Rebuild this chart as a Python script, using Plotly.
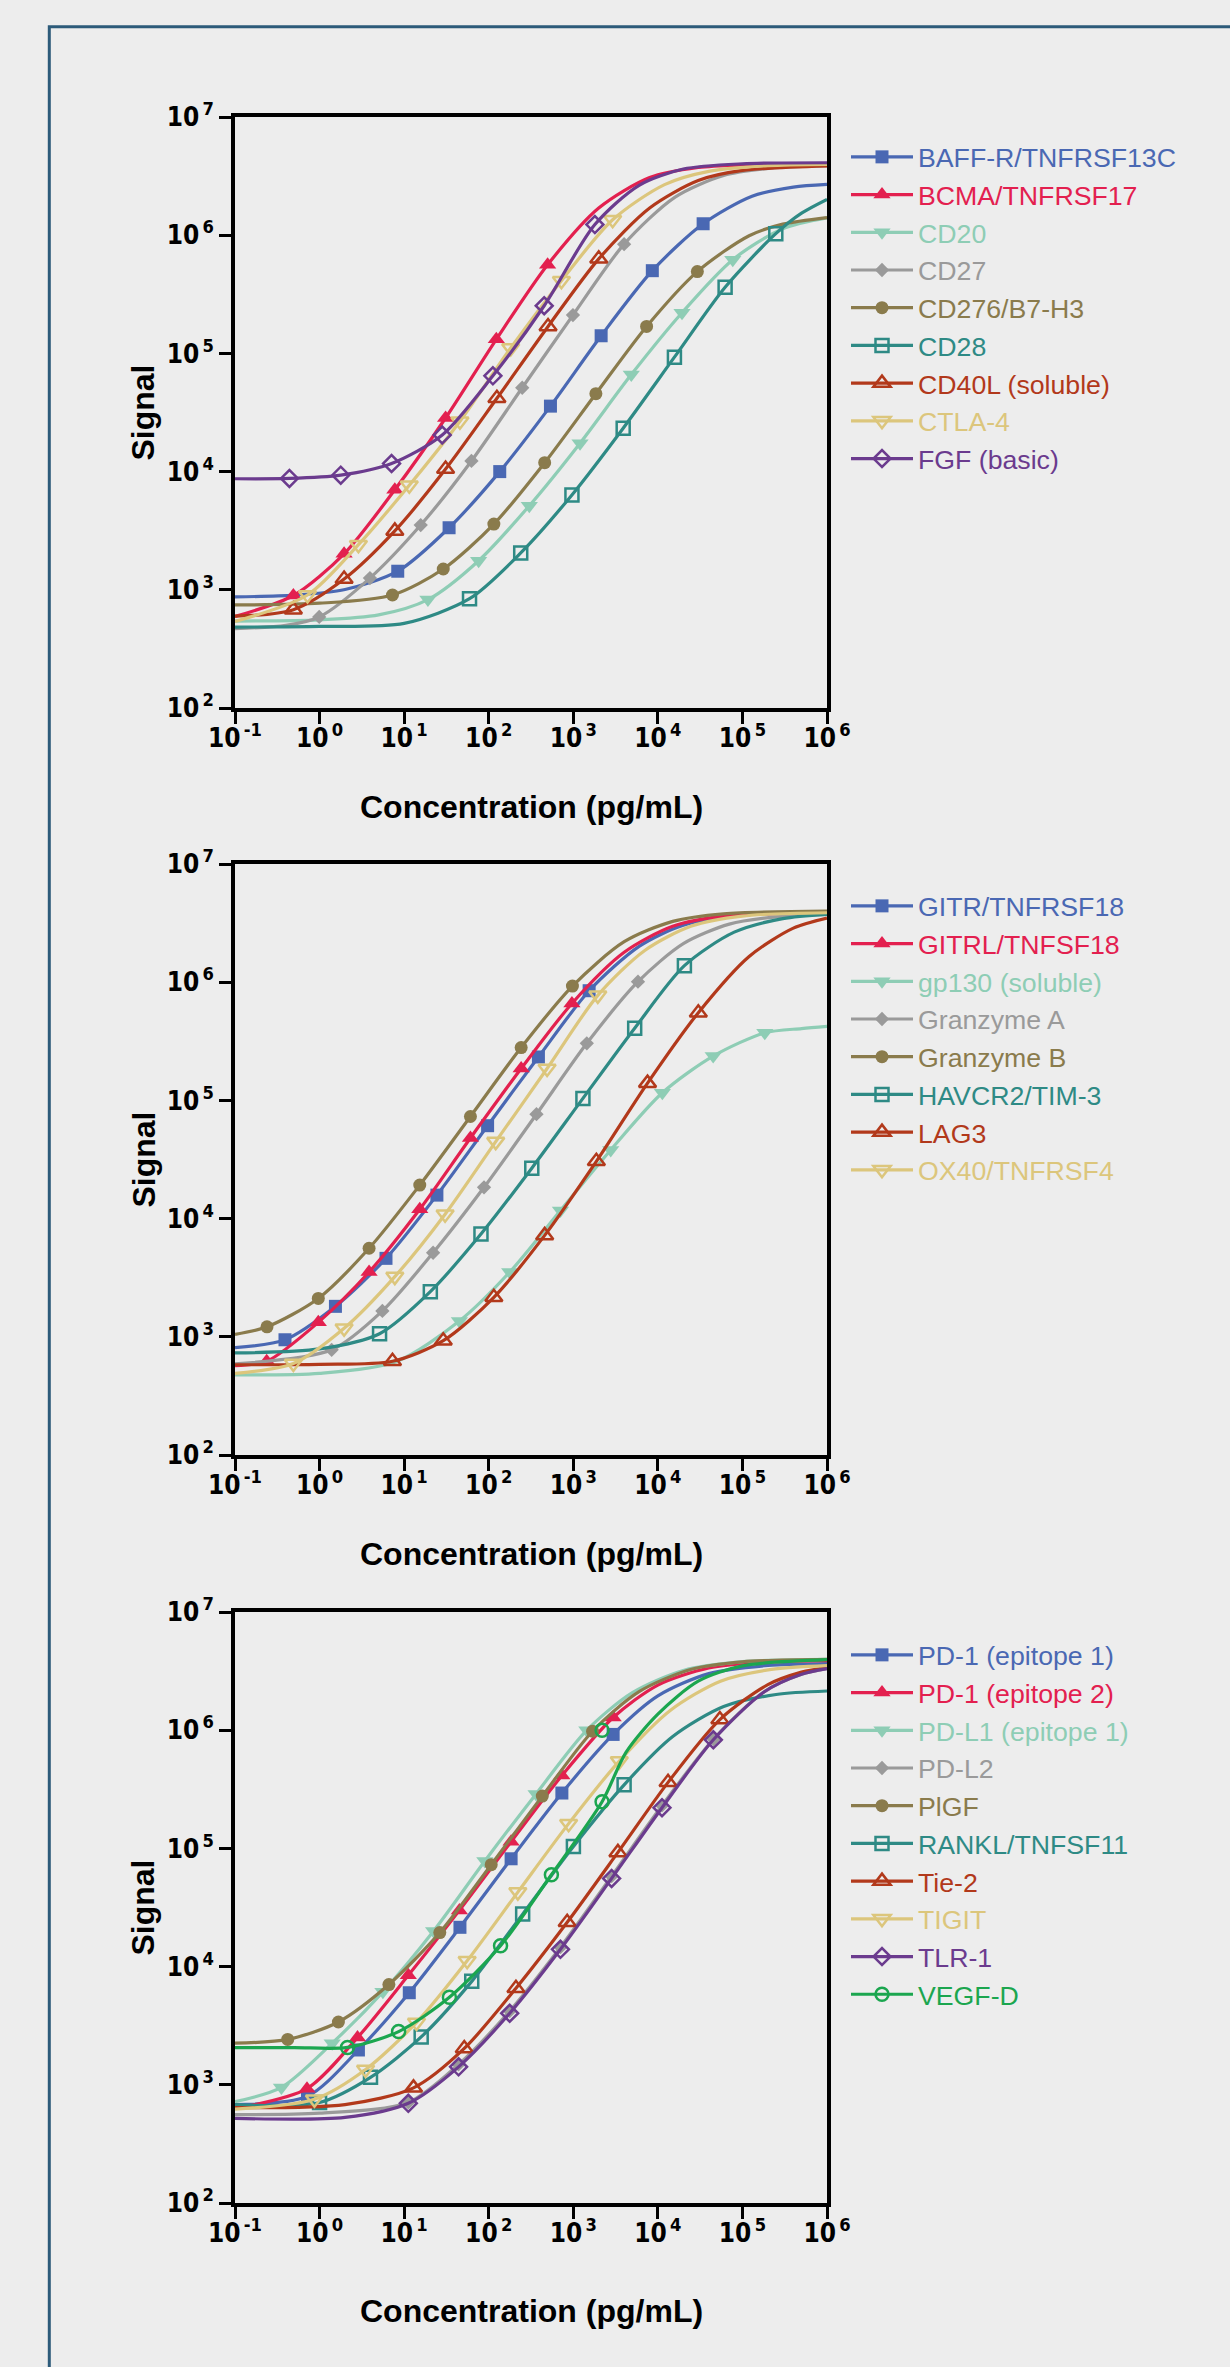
import plotly.graph_objects as go

# ---------------- axis tick labels ----------------
X_TICKVALS = [0.1, 1, 10, 100, 1000, 10000, 100000, 1000000]
X_TICKTEXT = ["10<sup>\u2009-1</sup>", "10<sup>\u20090</sup>", "10<sup>\u20091</sup>", "10<sup>\u20092</sup>",
              "10<sup>\u20093</sup>", "10<sup>\u20094</sup>", "10<sup>\u20095</sup>", "10<sup>\u20096</sup>"]
Y_TICKVALS = [100, 1000, 10000, 100000, 1000000, 10000000]
Y_TICKTEXT = ["10<sup>\u20092</sup>", "10<sup>\u20093</sup>", "10<sup>\u20094</sup>",
              "10<sup>\u20095</sup>", "10<sup>\u20096</sup>", "10<sup>\u20097</sup>"]
X_TITLE = "Concentration (pg/mL)"
Y_TITLE = "Signal"

# series styles (same order in every panel)
COLORS = ["#4a68b3", "#e3204f", "#8ecdb5", "#9a9a9a", "#8a7b4c",
          "#2e8a85", "#b2391b", "#dcc67c", "#6b3b8e", "#1ba64f"]
SYMBOLS = ["square", "triangle-up", "triangle-down", "diamond", "circle",
           "square-open", "triangle-up-open", "triangle-down-open", "diamond-open", "circle-open"]

# ---------------- panel 1 ----------------
P1_NAMES = ["BAFF-R/TNFRSF13C", "BCMA/TNFRSF17", "CD20", "CD27", "CD276/B7-H3",
            "CD28", "CD40L (soluble)", "CTLA-4", "FGF (basic)"]
P1_MX = [[8.4, 34, 135, 537, 2135, 8600, 34300],
         [0.49, 1.95, 7.76, 30.9, 123, 497],
         [19.1, 76, 302, 1202, 4850, 19300, 76900],
         [0.99, 3.94, 15.7, 62.5, 249, 991, 3990],
         [7.28, 29, 115, 459, 1850, 7360, 29300],
         [59.3, 239, 964, 3890, 15700, 62400, 248000],
         [0.49, 1.95, 7.76, 30.9, 125, 503, 2000],
         [0.72, 2.88, 11.5, 45.7, 182, 724, 2920],
         [0.44, 1.78, 7.1, 28.2, 112, 453, 1800]]
P1_MY = [[1436, 3350, 10000, 35800, 141000, 501000, 1250000],
         [895, 2015, 7020, 28400, 131500, 562000],
         [826, 1762, 5140, 17400, 66200, 221000, 621000],
         [589, 1256, 3530, 12300, 51200, 211000, 840000],
         [904, 1500, 3600, 11900, 45600, 169000, 492000],
         [841, 2050, 6350, 23300, 92900, 363000, 1030000],
         [679, 1233, 3150, 10500, 41700, 169000, 631000],
         [904, 2410, 7670, 26700, 111000, 412000, 1350000],
         [8750, 9330, 11700, 20400, 64600, 253000, 1230000]]
# further points of the fitted curves (plateaus)
P1_CX = [[0.1, 0.5, 2, 130000, 400000, 1e6],
         [0.1, 2000, 8000, 30000, 100000, 1e6],
         [0.1, 1, 5, 300000, 1e6],
         [0.1, 0.4, 16000, 60000, 250000, 1e6],
         [0.1, 1, 120000, 300000, 1e6],
         [0.1, 1, 10, 500000, 1e6],
         [0.1, 8000, 30000, 100000, 1e6],
         [0.1, 12000, 40000, 200000, 1e6],
         [0.1, 6000, 20000, 100000, 1e6]]
P1_CY = [[872, 900, 1005, 2140000, 2550000, 2690000],
         [595, 1700000, 3080000, 3740000, 3930000, 4000000],
         [544, 557, 613, 1134000, 1400000],
         [470, 500, 2100000, 3200000, 3720000, 3855000],
         [745, 770, 990000, 1240000, 1410000],
         [484, 490, 520, 1536000, 2010000],
         [598, 1700000, 2900000, 3530000, 3860000],
         [540, 2680000, 3470000, 3880000, 3980000],
         [8700, 2645000, 3630000, 4020000, 4100000]]

# ---------------- panel 2 ----------------
P2_NAMES = ["GITR/TNFRSF18", "GITRL/TNFSF18", "gp130 (soluble)", "Granzyme A", "Granzyme B",
            "HAVCR2/TIM-3", "LAG3", "OX40/TNFRSF4"]
P2_MX = [[0.39, 1.54, 6.1, 24.4, 97, 387, 1540],
         [0.237, 0.966, 3.85, 15.3, 60.8, 242, 964],
         [45, 177, 705, 2770, 11300, 45100, 184000],
         [1.39, 5.53, 22, 88, 367, 1445, 5820],
         [0.239, 0.966, 3.85, 15.3, 60.8, 242, 977],
         [5.12, 20.4, 81, 323, 1300, 5320, 20600],
         [7.28, 29, 115, 459, 1875, 7550, 30100],
         [0.49, 1.95, 7.76, 30.5, 121, 490, 1950]]
P2_MY = [[944, 1810, 4610, 15800, 61100, 233000, 847000],
         [621, 1325, 3530, 12000, 48100, 186000, 661000],
         [1360, 3530, 11700, 38100, 116000, 237000, 373000],
         [776, 1656, 5140, 18400, 76400, 304000, 1010000],
         [1214, 2110, 5610, 19200, 73100, 280000, 927000],
         [1062, 2410, 7400, 26700, 104000, 408000, 1380000],
         [621, 927, 2160, 7210, 30500, 140000, 552000],
         [594, 1180, 3230, 10900, 44800, 186000, 774000]]
P2_CX = [[0.1, 6000, 20000, 100000, 1e6],
         [0.1, 4000, 15000, 60000, 1e6],
         [0.1, 1, 8, 500000, 1e6],
         [0.1, 20000, 70000, 250000, 1e6],
         [0.1, 4000, 15000, 60000, 1e6],
         [0.1, 1, 80000, 300000, 1e6],
         [0.1, 1, 120000, 400000, 1e6],
         [0.1, 7000, 25000, 100000, 1e6]]
P2_CY = [[811, 2010000, 3035000, 3690000, 3880000],
         [570, 1790000, 2970000, 3620000, 3880000],
         [476, 490, 615, 405000, 423000],
         [590, 2120000, 3100000, 3570000, 3740000],
         [1050, 2200000, 3270000, 3790000, 3990000],
         [730, 790, 2650000, 3455000, 3755000],
         [580, 585, 1650000, 2870000, 3490000],
         [490, 1855000, 2985000, 3625000, 3870000]]

# ---------------- panel 3 ----------------
P3_NAMES = ["PD-1 (epitope 1)", "PD-1 (epitope 2)", "PD-L1 (epitope 1)", "PD-L2", "PlGF",
            "RANKL/TNFSF11", "Tie-2", "TIGIT", "TLR-1", "VEGF-D"]
P3_MX = [[0.72, 2.88, 11.5, 45.7, 184, 733, 2960],
         [0.71, 2.81, 11.2, 45, 184, 733, 2960],
         [0.354, 1.41, 5.61, 22.3, 90, 363, 1445],
         [11.2, 44, 177, 705, 2840, 11200, 45600],
         [0.42, 1.67, 6.6, 26.4, 107, 430, 1690],
         [1.0, 4.0, 15.9, 63, 252, 1003, 3990],
         [12.9, 51.4, 210, 847, 3370, 13200, 54100],
         [0.87, 3.5, 14, 55.6, 221, 881, 3500],
         [11.2, 44, 177, 705, 2840, 11200, 45300],
         [2.14, 8.6, 34.3, 138, 551, 2190]]
P3_MY = [[800, 1970, 6010, 21500, 81700, 294000, 921000],
         [927, 2510, 8430, 29900, 114000, 413000, 1280000],
         [951, 2250, 6120, 20000, 78200, 289000, 1000000],
         [709, 1486, 4210, 14600, 58200, 231000, 841000],
         [2420, 3400, 7050, 19400, 72800, 277000, 980000],
         [709, 1156, 2540, 7500, 27800, 104000, 345000],
         [942, 2030, 6560, 23700, 92500, 362000, 1230000],
         [755, 1346, 3370, 11200, 42700, 162000, 548000],
         [697, 1419, 4030, 14000, 55700, 221000, 830000],
         [2070, 2820, 5500, 15000, 59800, 248000]]
P3_CX = [[0.1, 10000, 40000, 200000, 1e6],
         [0.1, 10000, 40000, 200000, 1e6],
         [0.1, 5000, 20000, 100000, 1e6],
         [0.1, 1, 180000, 500000, 1e6],
         [0.1, 6000, 25000, 100000, 1e6],
         [0.1, 15000, 60000, 250000, 1e6],
         [0.1, 2, 200000, 500000, 1e6],
         [0.1, 14000, 55000, 220000, 1e6],
         [0.1, 2, 180000, 500000, 1e6],
         [0.1, 0.5, 4200, 10000, 30000, 100000, 1e6]]
P3_CY = [[680, 1950000, 3010000, 3530000, 3660000],
         [630, 2410000, 3360000, 3780000, 3880000],
         [720, 2080000, 3200000, 3800000, 3980000],
         [560, 575, 2110000, 2970000, 3320000],
         [2250, 2120000, 3280000, 3790000, 3980000],
         [680, 884000, 1585000, 2005000, 2146000],
         [640, 680, 2430000, 3100000, 3410000],
         [622, 1470000, 2600000, 3270000, 3520000],
         [520, 530, 2105000, 2970000, 3320000],
         [2060, 2065, 650000, 1370000, 2600000, 3500000, 3950000]]
# one VEGF-D standard drawn away from its curve
P3_VEGFD_EXTRA_X = [2190]
P3_VEGFD_EXTRA_Y = [1000000]

# ---------------- layout geometry (pixels) ----------------
W, H = 1230, 2367
PLOT_L, PLOT_R = 235, 827
PANEL_TOPS = [117, 864, 1612]
PANEL_H = 591
XTITLE_Y = [807, 1554, 2311]
LEGEND_TOPS = [133, 882, 1631]
LEGEND_X = 846

FONT_TICK = "Liberation Sans Narrow, Arial Narrow, DejaVu Sans Condensed, sans-serif"
FONT_MAIN = "Liberation Sans, Arial, Helvetica, sans-serif"

fig = go.Figure()


def mk_style(i):
    sym = SYMBOLS[i]
    col = COLORS[i]
    if sym == "diamond":
        size = 11
    elif "triangle" in sym:
        size = 15
    else:
        size = 13
    if sym.endswith("-open"):
        return dict(symbol=sym, size=size, color=col, line=dict(color=col, width=2.5))
    return dict(symbol=sym, size=size, color=col, line=dict(width=0))


def add_panel(k, names, mx, my, cx, cy):
    xa = "x" if k == 1 else f"x{k}"
    ya = "y" if k == 1 else f"y{k}"
    lg = "legend" if k == 1 else f"legend{k}"
    for i, _ in enumerate(names):
        pts = sorted(zip(list(cx[i]) + list(mx[i]), list(cy[i]) + list(my[i])))
        fig.add_trace(go.Scatter(
            x=[p[0] for p in pts], y=[p[1] for p in pts], mode="lines",
            line=dict(color=COLORS[i], width=3.2, shape="spline", smoothing=0.8),
            xaxis=xa, yaxis=ya, showlegend=False, hoverinfo="skip"))
        fig.add_trace(go.Scatter(
            x=mx[i], y=my[i], mode="markers", marker=mk_style(i),
            xaxis=xa, yaxis=ya, showlegend=False))
    for i, name in enumerate(names):
        fig.add_trace(go.Scatter(
            x=[None], y=[None], mode="lines+markers",
            name=f"<span style='color:{COLORS[i]}'>{name}</span>",
            line=dict(color=COLORS[i], width=3.2), marker=mk_style(i),
            xaxis=xa, yaxis=ya, legend=lg))


add_panel(1, P1_NAMES, P1_MX, P1_MY, P1_CX, P1_CY)
add_panel(2, P2_NAMES, P2_MX, P2_MY, P2_CX, P2_CY)
add_panel(3, P3_NAMES, P3_MX, P3_MY, P3_CX, P3_CY)
fig.add_trace(go.Scatter(x=P3_VEGFD_EXTRA_X, y=P3_VEGFD_EXTRA_Y, mode="markers",
                         marker=mk_style(9), xaxis="x3", yaxis="y3", showlegend=False))

axis_common = dict(
    type="log", showgrid=False, zeroline=False,
    showline=True, linecolor="black", linewidth=3.8, mirror=True,
    ticks="outside", ticklen=12, tickwidth=3, tickcolor="black",
    tickmode="array", automargin=False,
    tickfont=dict(family=FONT_TICK, size=26, color="black", weight="bold"),
)

layout = dict(
    width=W, height=H, autosize=False,
    margin=dict(l=0, r=0, t=0, b=0, pad=0, autoexpand=False),
    paper_bgcolor="#ededed", plot_bgcolor="#ededed",
    showlegend=True,
)

annotations = []
for k, top in enumerate(PANEL_TOPS, start=1):
    y1 = 1 - top / H
    y0 = 1 - (top + PANEL_H) / H
    sfx = "" if k == 1 else str(k)
    layout["xaxis" + sfx] = dict(axis_common, domain=[PLOT_L / W, PLOT_R / W], range=[-1, 6],
                                 tickvals=X_TICKVALS, ticktext=X_TICKTEXT,
                                 ticklabelstandoff=-8, anchor="y" + sfx)
    layout["yaxis" + sfx] = dict(axis_common, domain=[y0, y1], range=[2, 7],
                                 tickvals=Y_TICKVALS, ticktext=Y_TICKTEXT,
                                 anchor="x" + sfx)
    layout["legend" + sfx] = dict(
        x=LEGEND_X / W, y=1 - LEGEND_TOPS[k - 1] / H, xanchor="left", yanchor="top",
        bgcolor="rgba(0,0,0,0)", font=dict(family=FONT_MAIN, size=26.7),
        itemwidth=62, tracegroupgap=0, traceorder="normal")
    annotations.append(dict(text=f"<b>{Y_TITLE}</b>", textangle=-90, x=143 / W, y=(y0 + y1) / 2,
                            xref="paper", yref="paper", xanchor="center", yanchor="middle",
                            showarrow=False,
                            font=dict(family=FONT_MAIN, size=32, color="black")))
    annotations.append(dict(text=f"<b>{X_TITLE}</b>", x=(PLOT_L + PLOT_R) / 2 / W,
                            y=1 - XTITLE_Y[k - 1] / H,
                            xref="paper", yref="paper", xanchor="center", yanchor="middle",
                            showarrow=False,
                            font=dict(family=FONT_MAIN, size=32, color="black")))

layout["annotations"] = annotations
layout["shapes"] = [dict(type="rect", xref="paper", yref="paper",
                         x0=49.3 / W, x1=1.05, y0=-0.05, y1=1 - 26.7 / H,
                         line=dict(color="#2d5b7a", width=3), fillcolor="rgba(0,0,0,0)")]
fig.update_layout(**layout)

fig.write_html("out.html",
               config={"displayModeBar": False},
               post_script="document.body.style.margin='0px';"
                           "document.body.style.background='#ededed';"
                           "document.documentElement.style.overflow='hidden';")
